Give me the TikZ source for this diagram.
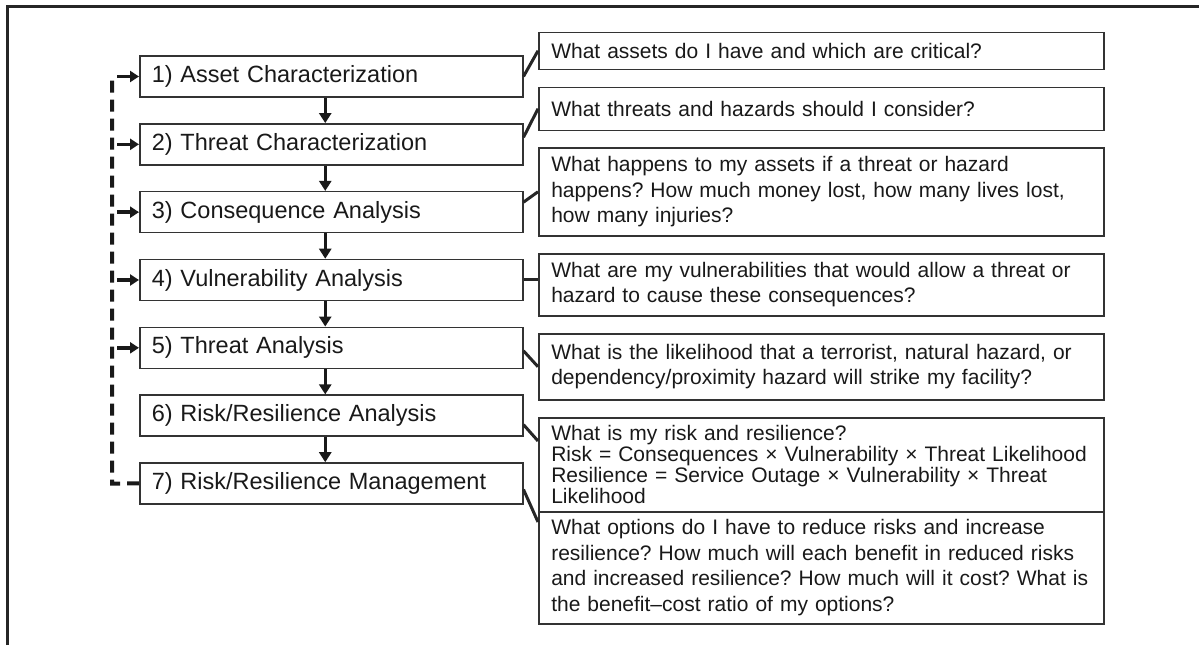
\documentclass[tikz,border=0pt]{standalone}
\usepackage{fontspec}
\setmainfont{Liberation Sans}
\usetikzlibrary{arrows.meta}
\frenchspacing

\begin{document}
\begin{tikzpicture}[x=1pt, y=-1pt,
    stepbox/.style={draw=black!80, line width=1.5pt, text=black!90,
        font=\fontsize{23.5}{28}\selectfont, text width=359pt, inner xsep=12pt,
        inner ysep=0pt, minimum height=41pt, align=left, anchor=west},
    question/.style={draw=black!80, line width=1.5pt, text=black!90,
        font=\fontsize{21}{25.5}\selectfont, text width=540pt, inner xsep=12.5pt,
        inner ysep=0pt, align=left, anchor=north west},
    link/.style={black!85, line width=3pt},
    down/.style={black!90, line width=3.5pt, -{Triangle[length=10pt,width=12pt]}},
    back/.style={black!90, line width=3.5pt, -{Triangle[length=9pt,width=11pt]}},
    loopline/.style={black!90, line width=4pt, dash pattern=on 12pt off 7pt}]
    \useasboundingbox (0,0) rectangle (1199,645);

    % frame
    \draw[black!85, line width=3pt] (7,645) -- (7,6) -- (1199,6);

    % steps
    \foreach \i/\txt in {1/{1) Asset Characterization}, 2/{2) Threat Characterization},
        3/{3) Consequence Analysis}, 4/{4) Vulnerability Analysis}, 5/{5) Threat Analysis},
        6/{6) Risk/Resilience Analysis}, 7/{7) Risk/Resilience Management}} {
        \pgfmathsetmacro\yy{76.5+(\i-1)*67.83}
        \node[stepbox] (b\i) at (139,\yy) {\txt};
    }

    % questions
    \node[question, minimum height=37pt] (r1) at (538,31.5) {What assets do I have and which are critical?};
    \node[question, minimum height=43pt] (r2) at (538,86.5) {What threats and hazards should I consider?};
    \node[question, minimum height=88pt] (r3) at (538,147) {What happens to my assets if a threat or hazard\\
        happens? How much money lost, how many lives lost,\\how many injuries?};
    \node[question, minimum height=62pt] (r4) at (538,253) {What are my vulnerabilities that would allow a threat or\\
        hazard to cause these consequences?};
    \node[question, minimum height=66pt] (r5) at (538,333) {What is the likelihood that a terrorist, natural hazard, or\\
        dependency/proximity hazard will strike my facility?};
    \node[question, minimum height=94pt, font=\fontsize{21}{21}\selectfont] (r6) at (538,417) {What is my risk and resilience?\\
        Risk = Consequences × Vulnerability × Threat Likelihood\\
        Resilience = Service Outage × Vulnerability × Threat\\Likelihood};
    \node[question, minimum height=112pt] (r7) at (538,511) {What options do I have to reduce risks and increase\\
        resilience? How much will each benefit in reduced risks\\
        and increased resilience? How much will it cost? What is\\
        the benefit–cost ratio of my options?};

    % step to question
    \draw[link] (b1.east) -- (r1.west);
    \draw[link] ([yshift=7pt]b2.east) -- (r2.west);
    \draw[link] ([yshift=10pt]b3.east) -- (r3.west);
    \draw[link] (b4.east) -- (b4.east -| r4.west);
    \draw[link] ([yshift=-3pt]b5.east) -- (r5.west);
    \draw[link] ([yshift=-9pt]b6.east) -- ([yshift=-24pt]r6.north west);
    \draw[link] ([yshift=-6pt]b7.east) -- ([yshift=-11pt]r7.north west);

    % flow down
    \foreach \i/\j in {1/2,2/3,3/4,4/5,5/6,6/7}
        \draw[down] ([xshift=-6pt]b\i.south) -- ([xshift=-6pt]b\j.north);

    % feedback loop
    \coordinate (looptop) at (112,75);
    \coordinate (loopcorner) at (112,483.5);
    \draw[loopline] (b7.west) -- (loopcorner) -- (looptop);
    \foreach \i in {1,...,5}
        \draw[back] ([xshift=-22pt]b\i.west) -- (b\i.west);
\end{tikzpicture}
\end{document}
